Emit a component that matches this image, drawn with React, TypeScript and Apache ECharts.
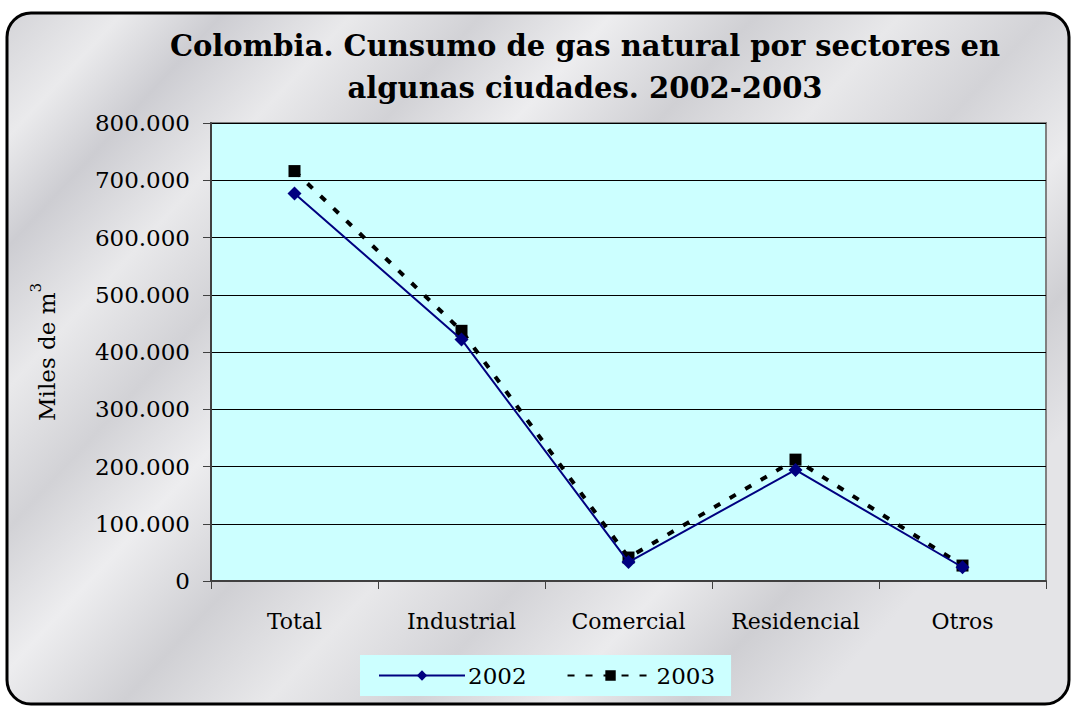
import React, { useEffect, useRef } from 'react';
import * as echarts from 'echarts';

const categories = ['Total', 'Industrial', 'Comercial', 'Residencial', 'Otros'];
const values2002 = [677000, 422000, 33000, 194000, 24000];
const values2003 = [716000, 437000, 41000, 212000, 27000];
const seriesNames = ['2002', '2003'];
const titleText = 'Colombia. Cunsumo de gas natural por sectores en\nalgunas ciudades. 2002-2003';

const fmt = (v: number) => String(v).replace(/\B(?=(\d{3})+(?!\d))/g, '.');

export default function App() {
  const ref = useRef<HTMLDivElement>(null);
  useEffect(() => {
    document.body.style.margin = '0';
    const chart = echarts.init(ref.current!, null, { renderer: 'svg' });
    chart.setOption({
      animation: false,
      graphic: [
        {
          type: 'rect',
          z: -10,
          silent: true,
          shape: { x: 7, y: 13, width: 1062, height: 691, r: 24 },
          style: {
            fill: new echarts.graphic.LinearGradient(0, 0, 1, 0.6, [
              { offset: 0, color: '#d4d4d8' },
              { offset: 0.08, color: '#eaeaec' },
              { offset: 0.15, color: '#cdcdd2' },
              { offset: 0.24, color: '#e9e9eb' },
              { offset: 0.33, color: '#d2d2d6' },
              { offset: 0.42, color: '#ededef' },
              { offset: 0.52, color: '#d0d0d4' },
              { offset: 0.62, color: '#e8e8ea' },
              { offset: 0.72, color: '#d3d3d7' },
              { offset: 0.82, color: '#ebebed' },
              { offset: 0.91, color: '#cfcfd3' },
              { offset: 1, color: '#e4e4e7' },
            ]),
            stroke: '#000',
            lineWidth: 3,
          },
        },
      ],
      title: {
        text: titleText,
        left: 580,
        top: 20,
        textAlign: 'center',
        textStyle: {
          fontFamily: 'DejaVu Serif',
          fontWeight: 'bold',
          fontSize: 29,
          lineHeight: 42,
          color: '#000',
        },
      },
      grid: {
        left: 211,
        right: 28,
        top: 123,
        bottom: 126,
        show: true,
        backgroundColor: '#CCFFFF',
        borderColor: '#808080',
        borderWidth: 2,
        containLabel: false,
      },
      legend: {
        data: seriesNames,
        left: 360,
        top: 655,
        padding: [9, 16, 9, 18],
        itemGap: 40,
        itemWidth: 86,
        itemHeight: 13,
        backgroundColor: '#CCFFFF',
        textStyle: { fontFamily: 'DejaVu Serif', fontSize: 23, color: '#000', padding: [0, 0, 0, -2] },
      },
      xAxis: {
        type: 'category',
        data: categories,
        boundaryGap: true,
        axisLine: { lineStyle: { color: '#404040', width: 2 } },
        axisTick: { show: true, interval: 0, length: 8, lineStyle: { color: '#404040' } },
        axisLabel: {
          interval: 0,
          hideOverlap: false,
          fontFamily: 'DejaVu Serif',
          fontSize: 22,
          color: '#000',
          margin: 29,
        },
      },
      yAxis: {
        type: 'value',
        min: 0,
        max: 800000,
        interval: 100000,
        name: '{a|Miles de m}{s|3}',
        nameLocation: 'middle',
        nameRotate: 90,
        nameGap: 153,
        nameTextStyle: {
          rich: {
            a: { fontFamily: 'DejaVu Serif', fontSize: 23, color: '#000', lineHeight: 30, verticalAlign: 'bottom' },
            s: { fontFamily: 'DejaVu Serif', fontSize: 15, color: '#000', lineHeight: 30, verticalAlign: 'top' },
          },
        },
        axisLine: { show: true, lineStyle: { color: '#404040', width: 2 } },
        axisTick: { show: true, length: 8, lineStyle: { color: '#404040' } },
        axisLabel: {
          formatter: fmt,
          fontFamily: 'DejaVu Serif',
          fontSize: 23,
          color: '#000',
          margin: 21,
        },
        splitLine: { show: true, lineStyle: { color: '#000', width: 1 } },
      },
      series: [
        {
          name: seriesNames[0],
          type: 'line',
          data: values2002,
          symbol: 'diamond',
          symbolSize: 14,
          itemStyle: { color: '#000080' },
          lineStyle: { color: '#000080', width: 2 },
          z: 3,
        },
        {
          name: seriesNames[1],
          type: 'line',
          data: values2003,
          symbol: 'rect',
          symbolSize: 12,
          itemStyle: { color: '#000' },
          lineStyle: { color: '#000', width: 4, type: [7, 11] },
          z: 2,
        },
      ],
    });
    return () => chart.dispose();
  }, []);
  return <div ref={ref} style={{ width: 1074, height: 707 }} />;
}
